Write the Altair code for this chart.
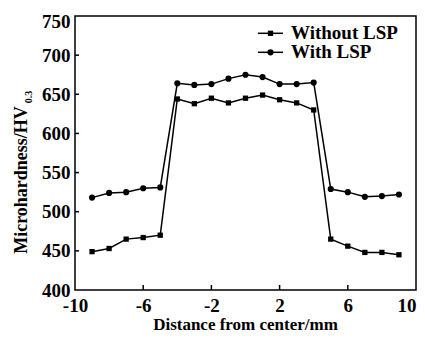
import altair as alt
import pandas as pd

distance = [-9, -8, -7, -6, -5, -4, -3, -2, -1, 0, 1, 2, 3, 4, 5, 6, 7, 8, 9]
without_lsp = [449, 453, 465, 467, 470, 644, 638, 645, 639, 645, 649, 643, 639, 630, 465, 456, 448, 448, 445]
with_lsp = [518, 524, 525, 530, 531, 664, 662, 663, 670, 675, 672, 663, 663, 665, 529, 525, 519, 520, 522]
series_names = ["Without LSP", "With LSP"]
series_shapes = ["square", "circle"]
x_ticks = [-10, -6, -2, 2, 6, 10]
y_ticks = [400, 450, 500, 550, 600, 650, 700, 750]
x_title = "Distance from center/mm"
y_title_main = "Microhardness/HV"
y_title_sub = "0.3"

FONT = "Liberation Serif"
W, H = 341, 274
FS = 19

xs = alt.Scale(domain=[-10, 10], nice=False)
ys = alt.Scale(domain=[400, 750], nice=False)

xaxis = alt.Axis(values=x_ticks, title=None, ticks=False, domain=False,
                 labelPadding=6, labelFontSize=FS, labelFont=FONT,
                 labelFontWeight="bold", labelColor="black", grid=False,
                 labelFlush=False, labelOverlap=False, labelBound=False,
                 labelAlign={"condition": {"test": "datum.value == 10", "value": "right"}, "value": "center"},
                 labelExpr="'' + datum.value")
yaxis = alt.Axis(values=y_ticks, title=None, ticks=False, domain=False,
                 labelPadding=5, labelFontSize=FS, labelFont=FONT,
                 labelFontWeight="bold", labelColor="black", grid=False,
                 labelFlush=False, labelOverlap=False, labelBound=False,
                 labelOffset={"condition": {"test": "datum.value == 750", "value": 5}, "value": 0},
                 labelExpr="'' + datum.value")

def X(field="d"):
    return alt.X(f"{field}:Q", scale=xs, axis=xaxis)

def Y(field="v"):
    return alt.Y(f"{field}:Q", scale=ys, axis=yaxis)

layers = []
for name, vals, shp, sz in [(series_names[0], without_lsp, series_shapes[0], 28),
                            (series_names[1], with_lsp, series_shapes[1], 38)]:
    df = pd.DataFrame({"d": distance, "v": vals})
    base = alt.Chart(df)
    layers.append(base.mark_line(color="black", strokeWidth=1.5).encode(x=X(), y=Y()))
    layers.append(base.mark_point(shape=shp, filled=True, color="black", opacity=1, size=sz).encode(x=X(), y=Y()))

# inward ticks
ytick_df = pd.DataFrame({"v": y_ticks[1:-1]})
layers.append(alt.Chart(ytick_df).mark_rule(color="black", strokeWidth=1.5).encode(
    y=Y(), x=alt.value(0), x2=alt.value(4)))
xtick_df = pd.DataFrame({"d": x_ticks[1:-1]})
layers.append(alt.Chart(xtick_df).mark_rule(color="black", strokeWidth=1.5).encode(
    x=X(), y=alt.value(H), y2=alt.value(H - 5)))

# legend
for i, (name, shp, sz) in enumerate([(series_names[0], series_shapes[0], 28), (series_names[1], series_shapes[1], 38)]):
    ly = 17.3 + i * 19
    ldf = pd.DataFrame({"t": [name]})
    lb = alt.Chart(ldf)
    layers.append(lb.mark_rule(color="black", strokeWidth=1.5).encode(
        x=alt.value(183), x2=alt.value(208), y=alt.value(ly)))
    layers.append(lb.mark_point(shape=shp, filled=True, color="black", opacity=1, size=sz).encode(
        x=alt.value(195.5), y=alt.value(ly)))
    layers.append(lb.mark_text(align="left", baseline="middle", font=FONT, fontSize=FS,
                               fontWeight="bold", color="black").encode(
        x=alt.value(216), y=alt.value(ly), text="t:N"))

# axis titles
layers.append(alt.Chart(pd.DataFrame({"t": [x_title]})).mark_text(
    align="center", baseline="alphabetic", font=FONT, fontSize=17, fontWeight="bold", color="black").encode(
    x=alt.value(W / 2), y=alt.value(313.5), text="t:N"))
layers.append(alt.Chart(pd.DataFrame({"t": [y_title_main]})).mark_text(
    align="center", baseline="middle", angle=270, font=FONT, fontSize=18, fontWeight="bold", color="black").encode(
    x=alt.value(-53.5), y=alt.value(164), text="t:N"))
layers.append(alt.Chart(pd.DataFrame({"t": [y_title_sub]})).mark_text(
    align="center", baseline="middle", angle=270, font=FONT, fontSize=10, fontWeight="bold", color="black").encode(
    x=alt.value(-46.5), y=alt.value(81), text="t:N"))

chart = alt.layer(*layers).properties(
    width=W, height=H,
    autosize=alt.AutoSizeParams(type="none"),
    padding={"left": 67, "top": 8, "right": 1, "bottom": 40},
    background="white",
).configure_view(stroke="black", strokeWidth=1.5)

chart.save("out.html", embed_options={"renderer": "svg", "actions": False})
